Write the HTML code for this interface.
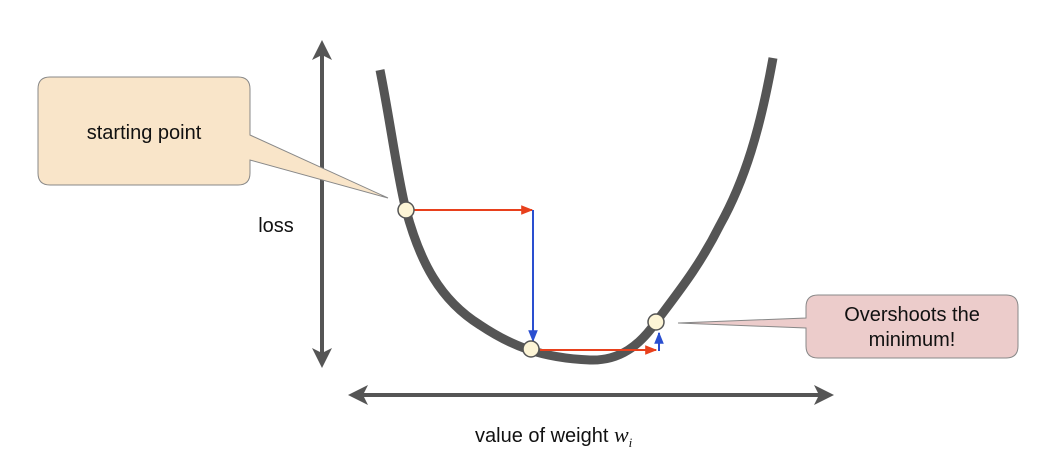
<!DOCTYPE html>
<html><head><meta charset="utf-8"><style>
html,body{margin:0;padding:0;background:#fff;}
svg{display:block;font-family:"Liberation Sans",Arial,sans-serif;}
</style></head><body>
<svg width="1059" height="466" viewBox="0 0 1059 466">
<defs>
<marker id="ag" viewBox="0 0 10 10" refX="8" refY="5" markerWidth="5" markerHeight="5" orient="auto-start-reverse"><path d="M0,0 L10,5 L0,10 L2.5,5 z" fill="#555"/></marker>
<marker id="ar" viewBox="0 0 10 10" refX="9" refY="5" markerWidth="6" markerHeight="6" orient="auto"><path d="M0,1 L10,5 L0,9 z" fill="#e8401c"/></marker>
<marker id="ab" viewBox="0 0 10 10" refX="9" refY="5" markerWidth="6" markerHeight="6" orient="auto"><path d="M0,1 L10,5 L0,9 z" fill="#2a4fd0"/></marker>
</defs>
<line x1="322" y1="44" x2="322" y2="364" stroke="#555" stroke-width="4" marker-start="url(#ag)" marker-end="url(#ag)"/>
<line x1="352" y1="395" x2="830" y2="395" stroke="#555" stroke-width="4" marker-start="url(#ag)" marker-end="url(#ag)"/>
<path d="M380,70 C390,120 398,180 406,210 C420,262 440,300 480,325 C510,345 540,358 590,360 C620,361 640,345 656,322 C680,290 700,265 720,225 C745,180 760,130 773,58" fill="none" stroke="#555" stroke-width="9" stroke-linecap="butt"/>
<text x="276" y="232" font-size="20" text-anchor="middle" fill="#111">loss</text>
<text x="475" y="442" font-size="20" fill="#111">value of weight <tspan font-family="Liberation Serif,serif" font-style="italic" font-size="22">w</tspan><tspan font-family="Liberation Serif,serif" font-style="italic" font-size="13" dy="5">i</tspan></text>
<path d="M50,77 H238 Q250,77 250,89 V135 L388,198 L250,160 V173 Q250,185 238,185 H50 Q38,185 38,173 V89 Q38,77 50,77 Z" fill="#f9e5c9" stroke="#888" stroke-width="1"/>
<text x="144" y="139" font-size="20" text-anchor="middle" fill="#111">starting point</text>
<path d="M818,295 H1006 Q1018,295 1018,307 V346 Q1018,358 1006,358 H818 Q806,358 806,346 V328 L678,323 L806,318 V307 Q806,295 818,295 Z" fill="#eccccb" stroke="#888" stroke-width="1"/>
<text x="912" y="321" font-size="20" text-anchor="middle" fill="#111">Overshoots the</text>
<text x="912" y="346" font-size="20" text-anchor="middle" fill="#111">minimum!</text>
<line x1="414" y1="210" x2="532" y2="210" stroke="#e8401c" stroke-width="2" marker-end="url(#ar)"/>
<line x1="533" y1="210" x2="533" y2="341" stroke="#2a4fd0" stroke-width="2" marker-end="url(#ab)"/>
<line x1="540" y1="350" x2="656" y2="350" stroke="#e8401c" stroke-width="2" marker-end="url(#ar)"/>
<line x1="659" y1="351" x2="659" y2="333" stroke="#2a4fd0" stroke-width="2" marker-end="url(#ab)"/>
<circle cx="406" cy="210" r="8" fill="#fdf5d6" stroke="#555" stroke-width="1.5"/>
<circle cx="531" cy="349" r="8" fill="#fdf5d6" stroke="#555" stroke-width="1.5"/>
<circle cx="656" cy="322" r="8" fill="#fdf5d6" stroke="#555" stroke-width="1.5"/>
</svg>
</body></html>
